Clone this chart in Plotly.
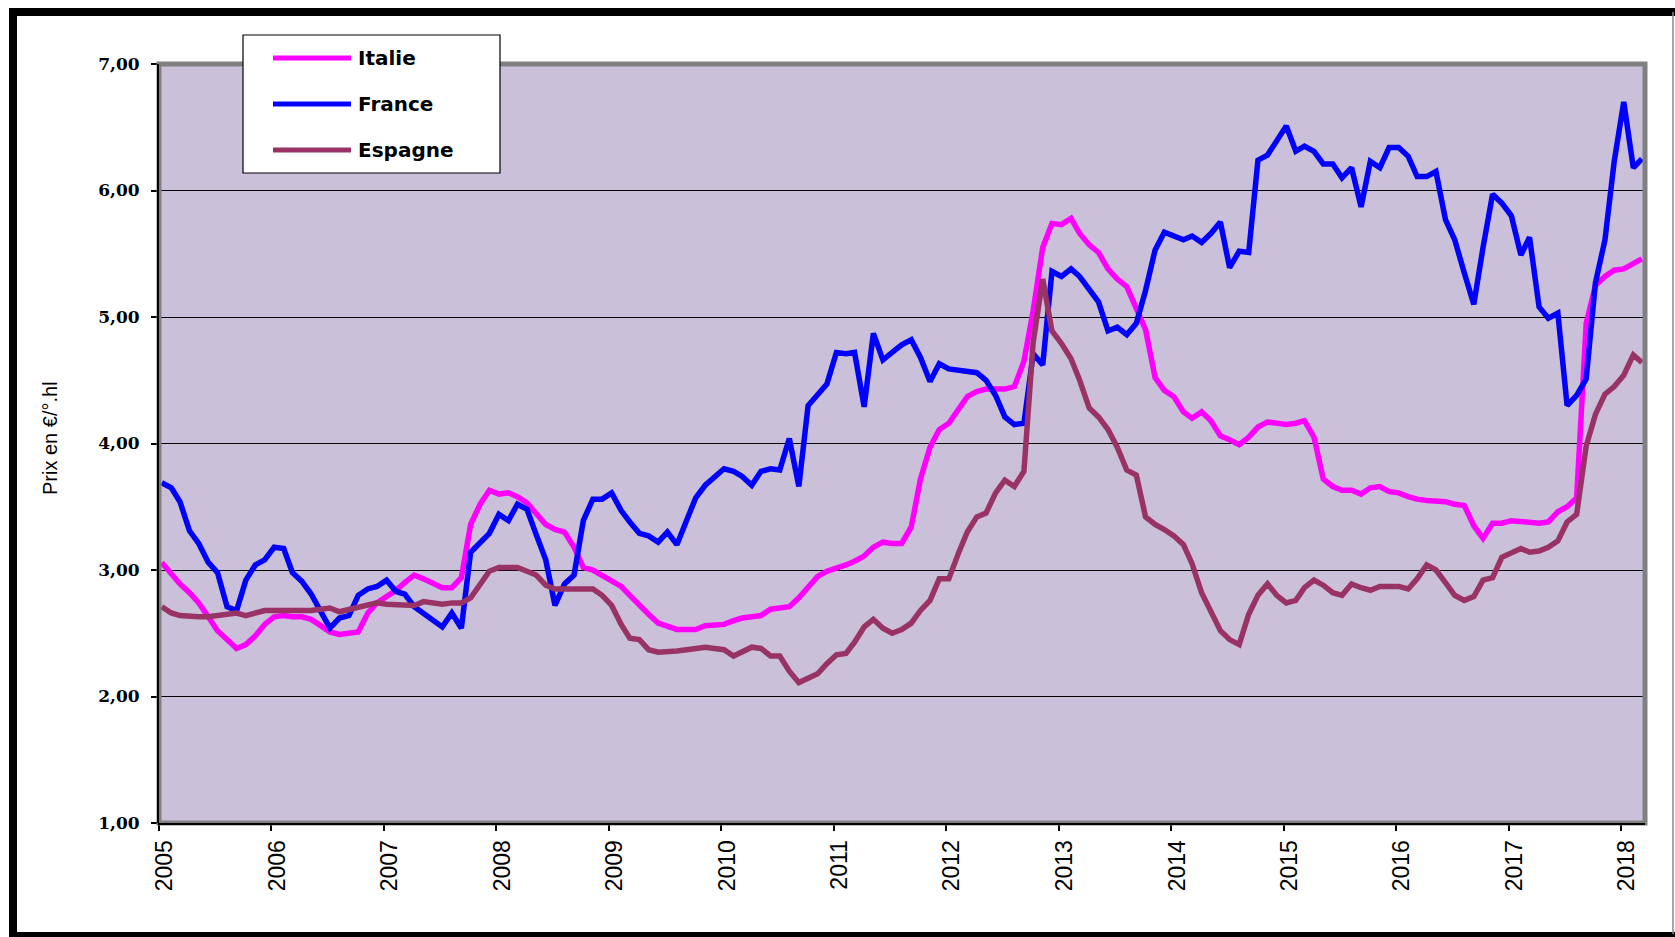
import pandas as pd
import plotly.graph_objects as go

# Monthly prices (€/°.hl), January 2005 to March 2018
italie = [
    3.06, 2.97, 2.89, 2.82, 2.74, 2.63, 2.52, 2.45, 2.38, 2.41, 2.48, 2.57,
    2.63, 2.64, 2.63, 2.63, 2.61, 2.56, 2.51, 2.49, 2.50, 2.51, 2.66, 2.74,
    2.79, 2.84, 2.90, 2.96, 2.93, 2.89, 2.86, 2.86, 2.94, 3.36, 3.52, 3.63,
    3.60, 3.61, 3.58, 3.53, 3.45, 3.36, 3.32, 3.30, 3.18, 3.02, 3.00, 2.96,
    2.91, 2.87, 2.80, 2.72, 2.65, 2.58, 2.55, 2.53, 2.53, 2.53, 2.56, 2.57,
    2.57, 2.60, 2.62, 2.63, 2.64, 2.69, 2.70, 2.71, 2.78, 2.86, 2.95, 2.99,
    3.01, 3.04, 3.07, 3.11, 3.18, 3.22, 3.21, 3.21, 3.34, 3.72, 3.97, 4.11,
    4.16, 4.27, 4.37, 4.41, 4.43, 4.43, 4.43, 4.45, 4.65, 5.05, 5.55, 5.74,
    5.73, 5.78, 5.66, 5.57, 5.51, 5.38, 5.30, 5.24, 5.08, 4.90, 4.52, 4.42,
    4.37, 4.25, 4.20, 4.25, 4.18, 4.06, 4.03, 3.99, 4.05, 4.13, 4.17, 4.16,
    4.15, 4.16, 4.18, 4.05, 3.72, 3.66, 3.63, 3.63, 3.60, 3.65, 3.66, 3.62,
    3.61, 3.58, 3.56, 3.55, 3.55, 3.54, 3.52, 3.51, 3.35, 3.25, 3.37, 3.37,
    3.39, 3.38, 3.38, 3.37, 3.38, 3.46, 3.50, 3.57, 4.95, 5.25, 5.32, 5.37,
    5.38, 5.42, 5.46,
]

france = [
    3.69, 3.65, 3.54, 3.31, 3.21, 3.06, 2.98, 2.71, 2.68, 2.92, 3.04, 3.08,
    3.18, 3.17, 2.98, 2.91, 2.81, 2.68, 2.54, 2.62, 2.64, 2.80, 2.85, 2.87,
    2.92, 2.83, 2.81, 2.71, 2.66, 2.60, 2.55, 2.66, 2.54, 3.14, 3.22, 3.29,
    3.44, 3.39, 3.52, 3.48, 3.28, 3.08, 2.72, 2.89, 2.96, 3.39, 3.56, 3.56,
    3.61, 3.47, 3.38, 3.29, 3.27, 3.22, 3.30, 3.20, 3.39, 3.57, 3.67, 3.73,
    3.80, 3.78, 3.74, 3.67, 3.78, 3.80, 3.79, 4.04, 3.66, 4.30, 4.39, 4.47,
    4.72, 4.71, 4.72, 4.29, 4.87, 4.66, 4.72, 4.78, 4.82, 4.68, 4.49, 4.63,
    4.59, 4.58, 4.57, 4.56, 4.50, 4.38, 4.21, 4.15, 4.16, 4.71, 4.62, 5.36,
    5.32, 5.38, 5.32, 5.21, 5.12, 4.89, 4.92, 4.86, 4.95, 5.21, 5.53, 5.67,
    5.64, 5.61, 5.64, 5.59, 5.66, 5.75, 5.39, 5.52, 5.51, 6.24, 6.28, 6.39,
    6.51, 6.31, 6.35, 6.31, 6.21, 6.21, 6.10, 6.18, 5.87, 6.23, 6.18, 6.34,
    6.34, 6.27, 6.11, 6.11, 6.15, 5.77, 5.61, 5.35, 5.10, 5.55, 5.97, 5.90,
    5.80, 5.49, 5.63, 5.08, 4.99, 5.03, 4.30, 4.38, 4.51, 5.27, 5.61, 6.23,
    6.70, 6.18, 6.25,
]

espagne = [
    2.71, 2.66, 2.64, 2.63, 2.63, 2.63, 2.64, 2.66, 2.66, 2.64, 2.66, 2.68,
    2.68, 2.68, 2.67, 2.67, 2.68, 2.69, 2.70, 2.67, 2.69, 2.71, 2.73, 2.74,
    2.73, 2.73, 2.73, 2.72, 2.75, 2.74, 2.73, 2.74, 2.74, 2.78, 2.89, 2.99,
    3.02, 3.02, 3.02, 2.99, 2.96, 2.88, 2.85, 2.85, 2.85, 2.85, 2.85, 2.80,
    2.72, 2.57, 2.46, 2.45, 2.37, 2.35, 2.35, 2.36, 2.37, 2.38, 2.39, 2.38,
    2.37, 2.32, 2.35, 2.39, 2.38, 2.32, 2.32, 2.20, 2.11, 2.14, 2.18, 2.26,
    2.33, 2.34, 2.43, 2.55, 2.61, 2.54, 2.50, 2.53, 2.58, 2.68, 2.76, 2.93,
    2.93, 3.13, 3.30, 3.42, 3.45, 3.61, 3.71, 3.66, 3.78, 4.80, 5.30, 4.89,
    4.79, 4.67, 4.50, 4.28, 4.21, 4.11, 3.97, 3.79, 3.75, 3.42, 3.36, 3.32,
    3.27, 3.20, 3.05, 2.82, 2.68, 2.52, 2.45, 2.41, 2.65, 2.80, 2.89, 2.80,
    2.74, 2.76, 2.86, 2.92, 2.88, 2.82, 2.80, 2.89, 2.86, 2.84, 2.87, 2.87,
    2.87, 2.85, 2.93, 3.04, 3.00, 2.90, 2.80, 2.76, 2.79, 2.92, 2.94, 3.10,
    3.14, 3.17, 3.14, 3.15, 3.18, 3.23, 3.38, 3.44, 3.98, 4.23, 4.39, 4.45,
    4.54, 4.70, 4.64,
]

series_names = ["Italie", "France", "Espagne"]
series_colors = ["#FF00FF", "#0000FF", "#993366"]
series_values = [italie, france, espagne]

# one point per month, placed a little after the month start
months = pd.date_range("2005-01-01", periods=len(france), freq="MS") + pd.Timedelta(days=9)

W, H = 1675, 937
L, R, T, B = 159, 1645, 64, 823   # plot area in pixels


def px(x):
    return (x - L) / (R - L)


def py(y):
    return (B - y) / (B - T)


fig = go.Figure()
for name, color, vals in zip(series_names, series_colors, series_values):
    fig.add_trace(go.Scatter(
        x=months, y=vals, mode="lines", name=name,
        line=dict(color=color, width=5.5),
    ))

shapes = []
# plot area frame (grey) and black axis lines
shapes.append(dict(type="rect", xref="paper", yref="paper", x0=0, x1=1, y0=0, y1=1,
                   line=dict(color="#808080", width=5), layer="above"))
shapes.append(dict(type="line", xref="paper", yref="paper", x0=px(158), x1=px(158), y0=0, y1=1,
                   line=dict(color="black", width=2), layer="above"))
shapes.append(dict(type="line", xref="paper", yref="paper", x0=px(158), x1=1, y0=py(824), y1=py(824),
                   line=dict(color="black", width=2), layer="above"))

# outer chart frame
shapes.append(dict(type="line", xref="paper", yref="paper", x0=px(9), x1=px(W), y0=py(12), y1=py(12),
                   line=dict(color="black", width=8)))
shapes.append(dict(type="line", xref="paper", yref="paper", x0=px(13), x1=px(13), y0=py(H), y1=py(8),
                   line=dict(color="black", width=8)))
shapes.append(dict(type="line", xref="paper", yref="paper", x0=px(9), x1=px(W), y0=py(934.5), y1=py(934.5),
                   line=dict(color="black", width=5)))
shapes.append(dict(type="line", xref="paper", yref="paper", x0=px(1673), x1=px(1673), y0=py(934), y1=py(12),
                   line=dict(color="#8a8a8a", width=1.5)))

# legend box
shapes.append(dict(type="rect", xref="paper", yref="paper", x0=px(243), x1=px(500), y0=py(173), y1=py(35),
                   fillcolor="white", line=dict(color="black", width=1.2), layer="above"))
legend_rows = [58, 104, 150]
annotations = []
for name, color, yrow in zip(series_names, series_colors, legend_rows):
    shapes.append(dict(type="line", xref="paper", yref="paper", x0=px(273), x1=px(351),
                       y0=py(yrow), y1=py(yrow), line=dict(color=color, width=5), layer="above"))
    annotations.append(dict(xref="paper", yref="paper", x=px(356), y=py(yrow), text=name,
                            showarrow=False, xanchor="left", yanchor="middle",
                            font=dict(family="DejaVu Sans", size=20, color="black", weight="bold")))

# y-axis title
annotations.append(dict(xref="paper", yref="paper", x=px(50), y=py(438), text="Prix en €/°.hl",
                        textangle=-90, showarrow=False, xanchor="center", yanchor="middle",
                        font=dict(family="Liberation Sans Narrow, Liberation Sans", size=20, color="black")))

fig.update_layout(
    width=W, height=H,
    margin=dict(l=L, r=W - R, t=T, b=H - B),
    paper_bgcolor="white",
    plot_bgcolor="#CBC0DA",
    separators=", ",
    showlegend=False,
    shapes=shapes,
    annotations=annotations,
    xaxis=dict(
        type="date",
        range=["2005-01-01", "2018-03-20"],
        tickmode="linear", tick0="2005-01-01", dtick="M12", tickformat="%Y",
        tickangle=-90, ticks="outside", ticklen=7, tickwidth=1.5, tickcolor="black",
        ticklabelshift=6,
        tickfont=dict(family="Liberation Sans", size=23, color="black"),
        showgrid=False, zeroline=False, showline=False,
    ),
    yaxis=dict(
        range=[1, 7], tickmode="linear", tick0=1, dtick=1, tickformat=".2f",
        ticks="outside", ticklen=7, tickwidth=1.5, tickcolor="black",
        ticklabelstandoff=8,
        tickfont=dict(family="DejaVu Serif", size=17, color="black", weight="bold"),
        showgrid=True, gridcolor="black", gridwidth=1.2,
        zeroline=False, showline=False,
    ),
)

fig.write_html("out.html")
